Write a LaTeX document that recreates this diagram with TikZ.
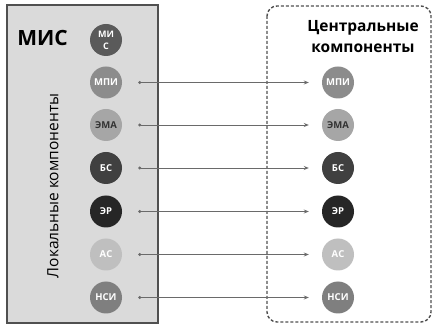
\documentclass[tikz,border=0pt]{standalone}
\usepackage{fontspec}
\setmainfont{Open Sans}
\usetikzlibrary{arrows.meta}
\definecolor{panelfill}{HTML}{DADADA}
\definecolor{panelline}{HTML}{505050}
\definecolor{connline}{HTML}{6A6A6A}
\definecolor{cMIS}{HTML}{5A5A5A}
\definecolor{cMPI}{HTML}{8C8C8C}
\definecolor{cEMA}{HTML}{A6A6A6}
\definecolor{cBS}{HTML}{404040}
\definecolor{cER}{HTML}{262626}
\definecolor{cAS}{HTML}{BFBFBF}
\definecolor{cNSI}{HTML}{7F7F7F}
\tikzset{
  disc/.style={circle, minimum size=32pt, inner sep=0pt, fill=#1,
    text=white, font=\fontsize{9.5}{9.5}\selectfont\bfseries, align=center},
  conn/.style={draw=connline, line width=0.9pt,
    {Circle[length=3pt]}-{Stealth[length=5pt,width=4pt]}},
}
\begin{document}
\begin{tikzpicture}[x=1pt,y=-1pt]
\useasboundingbox (0,0) rectangle (436,328);
\fill[white] (0,0) rectangle (436,328);

% local panel
\draw[panelline, fill=panelfill, line width=1.3pt] (7,5) rectangle (158,323);
\node[font=\fontsize{21}{21}\selectfont\bfseries, anchor=center] (mis) at (42.5,38) {МИС};
\node[rotate=90, font=\fontsize{15.5}{15.5}\selectfont] (loc) at (53,186) {Локальные компоненты};

% central panel
\draw[panelline, line width=1.4pt, dashed, dash pattern=on 3pt off 2pt, rounded corners=10pt]
  (267,6) rectangle (431,322);
\node[font=\fontsize{15.5}{21}\selectfont\bfseries, align=center] (cen) at (363,37)
  {Центральные\\компоненты};

% local components
\node[disc=cMIS, font=\fontsize{9}{9}\selectfont\bfseries] (l0) at (106,40) {МИ\\[3pt]С};
\node[disc=cMPI] (l1) at (106,82.5) {МПИ};
\node[disc=cEMA, text=black!80] (l2) at (106,125) {ЭМА};
\node[disc=cBS]  (l3) at (106,168) {БС};
\node[disc=cER]  (l4) at (106,211.5) {ЭР};
\node[disc=cAS]  (l5) at (106,254.5) {АС};
\node[disc=cNSI] (l6) at (106,297.5) {НСИ};

% central components
\node[disc=cMPI] (r1) at (338,82.5) {МПИ};
\node[disc=cEMA, text=black!80] (r2) at (338,125) {ЭМА};
\node[disc=cBS]  (r3) at (338,168) {БС};
\node[disc=cER]  (r4) at (338,211.5) {ЭР};
\node[disc=cAS]  (r5) at (338,254.5) {АС};
\node[disc=cNSI] (r6) at (338,297.5) {НСИ};

% links
\foreach \i in {1,...,6}
  \draw[conn] ([xshift=16pt]l\i.east) -- ([xshift=-13pt]r\i.west);
\end{tikzpicture}
\end{document}
